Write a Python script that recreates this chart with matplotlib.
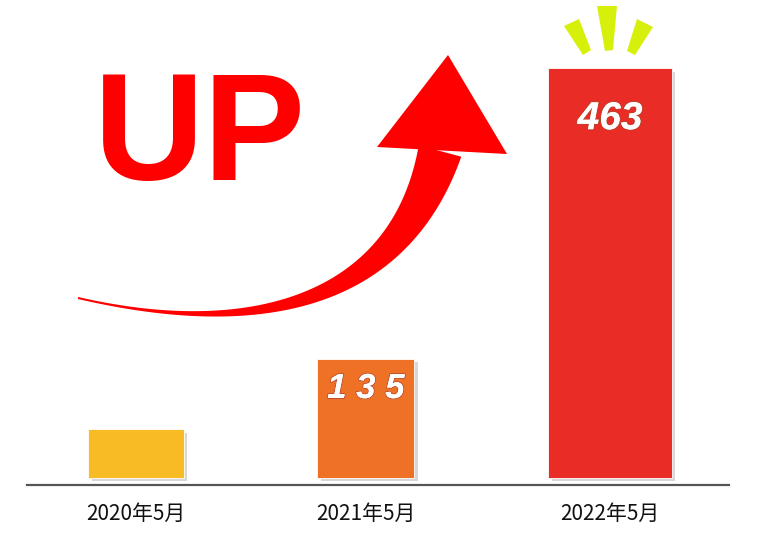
import numpy as np
import matplotlib
matplotlib.use("Agg")
import matplotlib.pyplot as plt
import matplotlib.patheffects as pe
from matplotlib.patches import Polygon
from matplotlib.transforms import Affine2D

plt.rcParams['font.family'] = ['Noto Sans CJK SC', 'DejaVu Sans']

# 数据
categories = ['2020年5月', '2021年5月', '2022年5月']
values = [55, 135, 463]
value_labels = ['', '1 3 5', '463']

# 版式
W, H = 760, 534
positions = [0, 0.97, 2.0]
widths = [0.405, 0.41, 0.523]
colors = ['#f8bb24', '#ef7126', '#e92c26']
label_drop = [0, 30, 51]       # 数字标签在柱顶下方的像素距离
label_size = [0, 25, 28]

fig = plt.figure(figsize=(W / 100, H / 100), dpi=100)
ax = fig.add_axes([27 / W, 49 / H, 702 / W, 1 - 49 / H])
ax.set_xlim(-0.46, 2.502)
ax.set_ylim(-7.9, 540)

bars = ax.bar(positions, values, width=widths, color=colors, edgecolor='white', linewidth=0.6)
for b in bars:
    b.set_path_effects([pe.SimplePatchShadow(offset=(2.5, -2.5), shadow_rgbFace='#b0b0b0', alpha=0.5),
                        pe.Normal()])

for x, v, lab, d, s in zip(positions, values, value_labels, label_drop, label_size):
    if not lab:
        continue
    ax.annotate(lab, (x, v), xytext=(0, -d * 0.72), textcoords='offset points',
                ha='center', va='center', color='white', fontsize=s,
                fontweight='bold', fontstyle='italic', family='Liberation Sans',
                path_effects=[pe.withStroke(linewidth=1.2, foreground='#b04a30'),
                              pe.Normal()])

ax.set_xticks(positions)
ax.set_xticklabels(categories, fontsize=15, color='#111111')
ax.tick_params(axis='x', length=0, pad=13)
ax.set_yticks([])
for side in ['top', 'left', 'right']:
    ax.spines[side].set_visible(False)
ax.spines['bottom'].set_color('#555555')
ax.spines['bottom'].set_linewidth(1.6)

# 装饰: 以像素坐标(左上为原点)绘制
pix = Affine2D().scale(1 / W, -1 / H).translate(0, 1) + fig.transFigure

fig.text(94, 180, 'UP', transform=pix, fontsize=110, fontweight='bold',
         family='Liberation Sans', color='#ff0000', ha='left', va='baseline')

# 弯曲箭头
P = np.array([[78, 298], [260, 340], [400, 300], [440, 151]], dtype=float)
t = np.linspace(0, 1, 120)[:, None]
curve = ((1 - t) ** 3 * P[0] + 3 * (1 - t) ** 2 * t * P[1]
         + 3 * (1 - t) * t ** 2 * P[2] + t ** 3 * P[3])
tang = (3 * (1 - t) ** 2 * (P[1] - P[0]) + 6 * (1 - t) * t * (P[2] - P[1])
        + 3 * t ** 2 * (P[3] - P[2]))
tang /= np.linalg.norm(tang, axis=1, keepdims=True)
norm = np.column_stack([-tang[:, 1], tang[:, 0]])
half = (1 + 21 * t[:, 0] ** 1.8)[:, None]
upper = curve - norm * half
lower = curve + norm * half
shaft = np.vstack([upper, lower[::-1]])
fig.add_artist(Polygon(shaft, closed=True, transform=pix, color='#ff0000', lw=0))
fig.add_artist(Polygon([[377, 147], [448, 55], [507, 154]], closed=True,
                       transform=pix, color='#ff0000', lw=0))

# 柱顶闪光
bursts = [
    [[564, 26], [579, 19], [591, 50], [583, 55]],
    [[597, 6], [617, 6], [613, 50], [605, 51]],
    [[637, 19], [653, 27], [635, 55], [627, 51]],
]
for poly in bursts:
    fig.add_artist(Polygon(poly, closed=True, transform=pix, color='#d6f00c', lw=0))

fig.savefig('out.png', dpi=100)
